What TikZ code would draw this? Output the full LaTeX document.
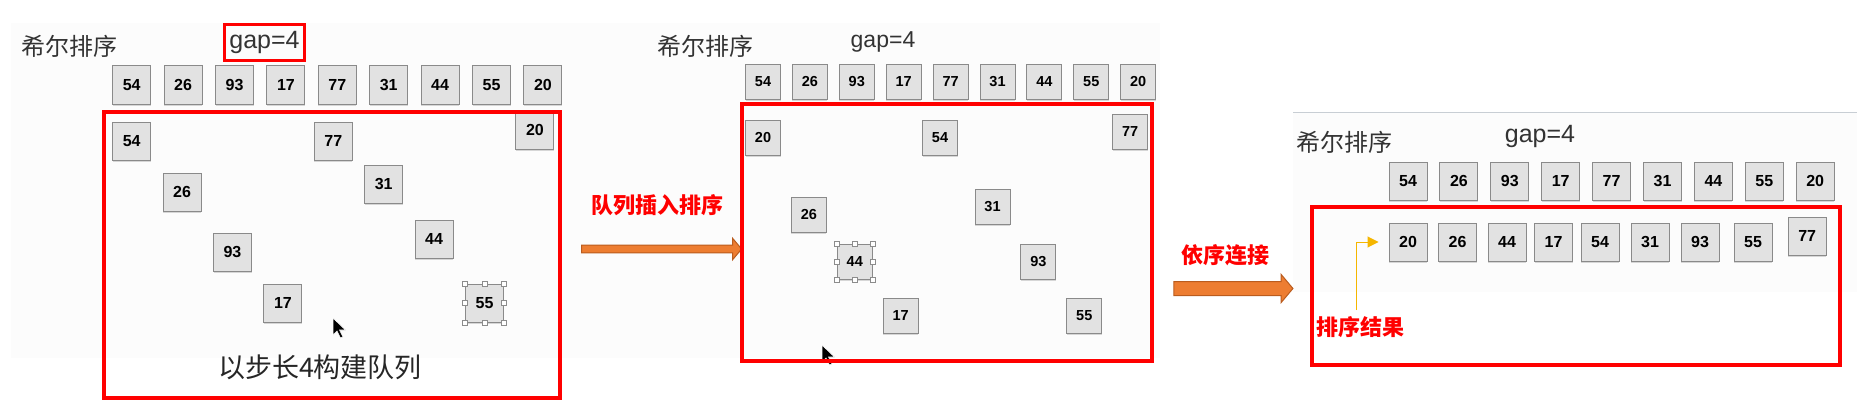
\documentclass[tikz,border=0pt]{standalone}
\usepackage{fontspec}
\setmainfont{Liberation Sans}
\newfontfamily\cjk{Noto Sans CJK SC}
\definecolor{framered}{RGB}{255, 0, 0}
\definecolor{cellgray}{RGB}{226, 226, 226}
\definecolor{celledge}{RGB}{138, 138, 138}
\definecolor{arroworange}{RGB}{237, 125, 49}
\definecolor{arrowedge}{RGB}{186, 92, 30}
\definecolor{hintgold}{RGB}{245, 182, 0}
\definecolor{panelgray}{RGB}{252, 252, 252}
\definecolor{rulegray}{RGB}{200, 206, 212}
\usetikzlibrary{shapes, arrows.meta, positioning, shadows}

\begin{document}
\begin{tikzpicture}[
  x=1pt, y=-1pt,
  cell/.style={draw=celledge, fill=cellgray, line width=1pt, minimum size=38pt, inner sep=0pt,
    font=\bfseries\fontsize{16}{16}\selectfont,
    drop shadow={shadow xshift=0pt, shadow yshift=-1.5pt, opacity=0.3}},
  smallcell/.style={cell, minimum size=35pt, font=\bfseries\fontsize{14.5}{14.5}\selectfont},
  grip/.style={draw=black!45, fill=white, line width=0.6pt, minimum size=5pt, inner sep=0pt},
  frame/.style={draw=framered, line width=4pt},
  title/.style={font=\cjk\fontsize{24}{24}\selectfont, text=black!80, inner sep=0pt},
  gaplbl/.style={font=\fontsize{25}{25}\selectfont, text=black!80, inner sep=0pt},
  redlbl/.style={font=\cjk\bfseries\fontsize{22}{22}\selectfont, text=framered, inner sep=2pt},
  blockarrow/.style={single arrow, draw=arrowedge, fill=arroworange, line width=1pt,
    inner xsep=0pt, single arrow head extend=7pt, single arrow tip angle=100},
  hint/.style={draw=hintgold, line width=1pt, -{Triangle[length=11pt, width=11pt]}}
]
  \useasboundingbox (0,0) rectangle (1875,412);
  \fill[panelgray] (11,23) rectangle (1160,358);
  \fill[panelgray] (1293,112) rectangle (1857,292);
  \draw[rulegray, line width=1pt] (1293,112) -- (1857,112);

  % step 1
  \node[title, anchor=west] (titleA) at (21,46) {希尔排序};
  \node[gaplbl, draw=framered, line width=3pt, minimum width=80pt, minimum height=36pt] (gapA) at (264.5,42.5) {gap=4};
  \node[cell] (at1) at (131.7,85) {54};
  \node[cell, right=12.4pt of at1] (at2) {26};
  \node[cell, right=12.4pt of at2] (at3) {93};
  \node[cell, right=12.4pt of at3] (at4) {17};
  \node[cell, right=12.4pt of at4] (at5) {77};
  \node[cell, right=12.4pt of at5] (at6) {31};
  \node[cell, right=12.4pt of at6] (at7) {44};
  \node[cell, right=12.4pt of at7] (at8) {55};
  \node[cell, right=12.4pt of at8] (at9) {20};
  \node[cell] (a54) at (131.7,141) {54};
  \node[cell] (a26) at (182.1,192) {26};
  \node[cell] (a93) at (232.5,252) {93};
  \node[cell] (a17) at (282.9,303) {17};
  \node[cell] (a77) at (333.3,141) {77};
  \node[cell] (a31) at (383.7,184) {31};
  \node[cell] (a44) at (434.1,239) {44};
  \node[cell] (a55) at (484.5,303) {55};
  \node[cell] (a20) at (534.9,130) {20};
  \foreach \a in {north west, north, north east, east, south east, south, south west, west}
    \node[grip] at (a55.\a) {};
  \fill[black, draw=white, line width=0.6pt] (333,318) -- ++(0,17) -- ++(4,-4) -- ++(3.5,7)
    -- ++(2.5,-1.2) -- ++(-3.5,-6.8) -- ++(6,0) -- cycle;
  \draw[frame] (103.5,112) rectangle (559.5,398);
  \node[font=\cjk\fontsize{27}{27}\selectfont, text=black!85] (buildA) at (320,367) {以步长4构建队列};

  \node[blockarrow, minimum height=160pt] (moveA) at (660,249) {};
  \node[redlbl] (insertlbl) at (657,205) {队列插入排序};

  % step 2
  \node[title] (titleB) at (705,46) {希尔排序};
  \node[gaplbl, font=\fontsize{23}{23}\selectfont] (gapB) at (883,42) {gap=4};
  \node[smallcell] (bt1) at (763,82) {54};
  \node[smallcell, right=10.9pt of bt1] (bt2) {26};
  \node[smallcell, right=10.9pt of bt2] (bt3) {93};
  \node[smallcell, right=10.9pt of bt3] (bt4) {17};
  \node[smallcell, right=10.9pt of bt4] (bt5) {77};
  \node[smallcell, right=10.9pt of bt5] (bt6) {31};
  \node[smallcell, right=10.9pt of bt6] (bt7) {44};
  \node[smallcell, right=10.9pt of bt7] (bt8) {55};
  \node[smallcell, right=10.9pt of bt8] (bt9) {20};
  \node[smallcell] (b20) at (763,137.5) {20};
  \node[smallcell] (b26) at (808.9,215) {26};
  \node[smallcell] (b44) at (854.8,262) {44};
  \node[smallcell] (b17) at (900.7,316) {17};
  \node[smallcell] (b54) at (940,137.5) {54};
  \node[smallcell] (b31) at (992.5,207) {31};
  \node[smallcell] (b93) at (1038.4,262) {93};
  \node[smallcell] (b55) at (1084.3,316) {55};
  \node[smallcell] (b77) at (1130.2,132) {77};
  \foreach \a in {north west, north, north east, east, south east, south, south west, west}
    \node[grip] at (b44.\a) {};
  \fill[black, draw=white, line width=0.6pt] (822,345) -- ++(0,17) -- ++(4,-4) -- ++(3.5,7)
    -- ++(2.5,-1.2) -- ++(-3.5,-6.8) -- ++(6,0) -- cycle;
  \draw[frame] (742,104) rectangle (1152,361);

  \node[blockarrow, minimum height=119pt, inner ysep=6.5pt] (moveB) at (1230.5,288.5) {};
  \node[redlbl] (joinlbl) at (1225,255) {依序连接};

  % step 3
  \node[title] (titleC) at (1344.5,142) {希尔排序};
  \node[gaplbl] (gapC) at (1540,136) {gap=4};
  \node[cell] (ct1) at (1408,181) {54};
  \node[cell, right=11.9pt of ct1] (ct2) {26};
  \node[cell, right=11.9pt of ct2] (ct3) {93};
  \node[cell, right=11.9pt of ct3] (ct4) {17};
  \node[cell, right=11.9pt of ct4] (ct5) {77};
  \node[cell, right=11.9pt of ct5] (ct6) {31};
  \node[cell, right=11.9pt of ct6] (ct7) {44};
  \node[cell, right=11.9pt of ct7] (ct8) {55};
  \node[cell, right=11.9pt of ct8] (ct9) {20};
  \node[cell] (c1) at (1408,242) {20};
  \node[cell] (c2) at (1457.5,242) {26};
  \node[cell] (c3) at (1507,242) {44};
  \node[cell] (c4) at (1553.5,242) {17};
  \node[cell] (c5) at (1600,242) {54};
  \node[cell] (c6) at (1650,242) {31};
  \node[cell] (c7) at (1700,242) {93};
  \node[cell] (c8) at (1753,242) {55};
  \node[cell] (c9) at (1807.2,236) {77};
  \draw[frame] (1312,207) rectangle (1840,365);
  \node[redlbl] (resultlbl) at (1360,327) {排序结果};
  \draw[hint, shorten <=4pt, shorten >=10pt] ([xshift=-4pt]resultlbl.north) |- (c1.west);
\end{tikzpicture}
\end{document}
